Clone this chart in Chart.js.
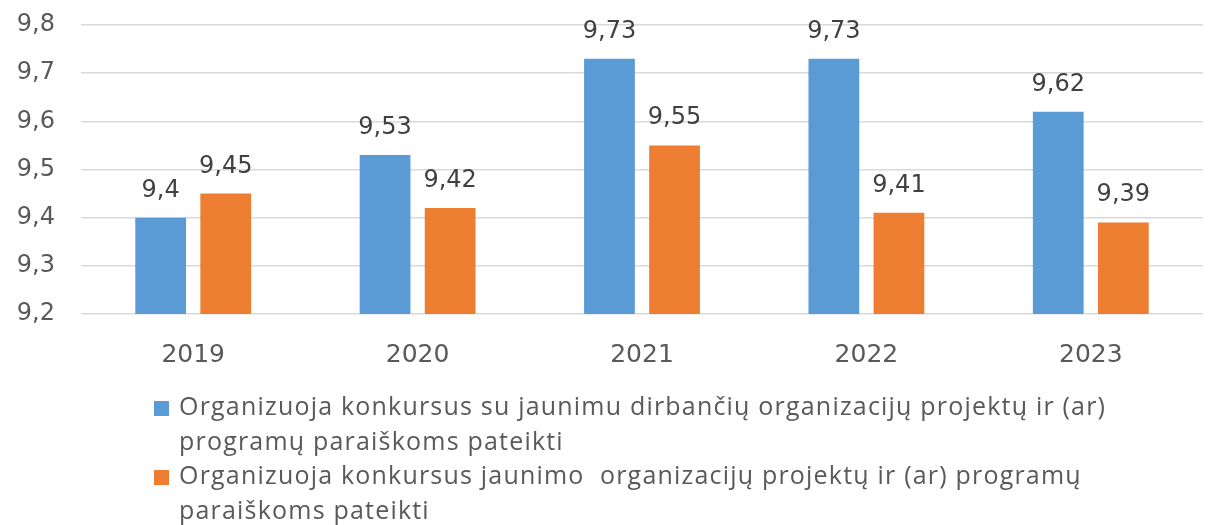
<!DOCTYPE html>
<html>
<head>
<meta charset="utf-8">
<script src="https://cdn.jsdelivr.net/npm/chart.js@4/dist/chart.umd.min.js"></script>
<style>
  html, body { margin: 0; padding: 0; background: #fff; }
  #wrap { width: 1219px; height: 525px; position: relative; }
</style>
</head>
<body>
<div id="wrap"><canvas id="chart"></canvas></div>
<script>
// chart data
const years = ['2019', '2020', '2021', '2022', '2023'];
const withYouthWorkOrgs = [9.4, 9.53, 9.73, 9.73, 9.62];
const youthOrgs = [9.45, 9.42, 9.55, 9.41, 9.39];
const seriesNames = [
    'Organizuoja konkursus su jaunimu dirbančių organizacijų projektų ir (ar) programų paraiškoms pateikti',
    'Organizuoja konkursus jaunimo  organizacijų projektų ir (ar) programų paraiškoms pateikti'
];
// how the legend text wraps in the picture
const legendLines = [
    ['Organizuoja konkursus su jaunimu dirbančių organizacijų projektų ir (ar)', 'programų paraiškoms pateikti'],
    ['Organizuoja konkursus jaunimo  organizacijų projektų ir (ar) programų', 'paraiškoms pateikti']
];
const yMin = 9.2, yMax = 9.8, yStep = 0.1;

const numFont = '"DejaVu Sans", sans-serif';
const legendFont = '"Open Sans", Lato, sans-serif';
const fmt = v => String(v).replace('.', ',');

// value labels above each bar
const barLabels = {
    id: 'barLabels',
    afterDatasetsDraw(chart) {
        const ctx = chart.ctx;
        ctx.save();
        ctx.font = '24px ' + numFont;
        ctx.fillStyle = '#404040';
        ctx.textAlign = 'center';
        ctx.textBaseline = 'alphabetic';
        chart.data.datasets.forEach((ds, i) => {
            chart.getDatasetMeta(i).data.forEach((bar, j) => {
                ctx.fillText(fmt(ds.data[j]), bar.x, bar.y - 21);
            });
        });
        ctx.restore();
    }
};

// legend below the chart, with the same line breaks as the original
const wrappedLegend = {
    id: 'wrappedLegend',
    afterDraw(chart) {
        const ctx = chart.ctx;
        ctx.save();
        ctx.font = '25px ' + legendFont;
        ctx.letterSpacing = '1.2px';
        ctx.textBaseline = 'middle';
        let y = 408;
        chart.data.datasets.forEach((ds, i) => {
            ctx.fillStyle = ds.backgroundColor;
            ctx.fillRect(154, y - 7, 15, 15);
            ctx.fillStyle = '#595959';
            legendLines[i].forEach(line => {
                ctx.fillText(line, 179, y);
                y += 34.5;
            });
        });
        ctx.restore();
    }
};

new Chart(document.getElementById('chart'), {
    type: 'bar',
    data: {
        labels: years,
        datasets: [
            { label: seriesNames[0], data: withYouthWorkOrgs, backgroundColor: '#5B9BD5' },
            { label: seriesNames[1], data: youthOrgs, backgroundColor: '#ED7D31' }
        ]
    },
    options: {
        responsive: true,
        maintainAspectRatio: false,
        animation: false,
        datasets: { bar: { categoryPercentage: 0.58, barPercentage: 0.78 } },
        layout: { padding: { top: 25, right: 16, left: 0, bottom: 0 } },
        plugins: {
            legend: { display: false },
            tooltip: { enabled: false }
        },
        scales: {
            x: {
                grid: { display: false },
                border: { display: false },
                ticks: { color: '#595959', font: { family: numFont, size: 25 }, padding: 18 },
                afterFit: s => { s.height = 211; }
            },
            y: {
                min: yMin,
                max: yMax,
                border: { display: false },
                grid: { color: '#d9d9d9', lineWidth: 1.5, drawTicks: false },
                ticks: {
                    stepSize: yStep,
                    color: '#595959',
                    font: { family: numFont, size: 24 },
                    padding: 26,
                    callback: v => v.toFixed(1).replace('.', ',')
                },
                afterFit: s => {
                    s.width = 81;
                    s.paddingTop = 0;
                    s.paddingBottom = 0;
                }
            }
        }
    },
    plugins: [barLabels, wrappedLegend]
});
</script>
</body>
</html>
